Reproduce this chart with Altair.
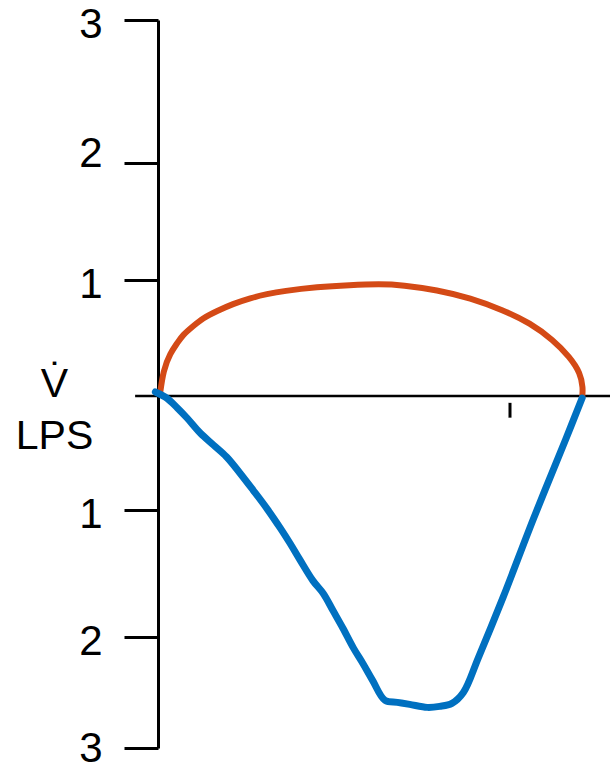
import altair as alt
import pandas as pd

# Volume (L) and flow (L/s) readings for the expiratory limb (above the zero line)
exp_volume = [0.02, 0.06, 0.14, 0.22, 0.28, 0.40, 0.51, 0.67, 0.85, 1.05, 1.24,
              1.42, 1.81, 2.18, 2.52, 2.78, 3.17, 3.55, 3.92, 4.23, 4.49, 4.68,
              4.80, 4.83, 4.82]
exp_flow = [0.0, 0.224, 0.371, 0.457, 0.526, 0.603, 0.672, 0.733, 0.793, 0.845, 0.879,
            0.905, 0.94, 0.957, 0.966, 0.957, 0.914, 0.845, 0.741, 0.629, 0.483, 0.336,
            0.198, 0.069, -0.017]

# Inspiratory limb (below the zero line)
insp_volume = [-0.03, 0.10, 0.22, 0.33, 0.48, 0.63, 0.78, 0.93, 1.08, 1.24, 1.39,
               1.50, 1.61, 1.76, 1.88, 1.99, 2.10, 2.22, 2.33, 2.44, 2.58, 2.72,
               2.86, 3.06, 3.20, 3.34, 3.47, 3.64, 3.92, 4.27, 4.63, 4.82]
insp_flow = [0.035, -0.018, -0.105, -0.193, -0.325, -0.43, -0.535, -0.675, -0.825,
             -0.99, -1.143, -1.262, -1.389, -1.556, -1.659, -1.794, -1.929, -2.098,
             -2.241, -2.393, -2.571, -2.589, -2.607, -2.634, -2.625, -2.598, -2.5,
             -2.1875, -1.69, -1.063, -0.386, -0.018]

flow_ticks = [-3, -2, -1, 1, 2, 3]
volume_tick = 4.0

exp_df = pd.DataFrame({"v": exp_volume, "f": exp_flow, "i": range(len(exp_volume))})
insp_df = pd.DataFrame({"v": insp_volume, "f": insp_flow, "i": range(len(insp_volume))})

W, H = 452, 728
FONT = "Liberation Sans"

x_scale = alt.Scale(domain=[0, W / 88], nice=False, zero=False)
# hand-ruled flow axis: spacing between the gridded values is not uniform
y_scale = alt.Scale(domain=[-3, -2, -1, 0, 1, 2, 3],
                    range=[728, 617, 490, 376, 260, 143, 0],
                    nice=False, zero=False)

y_axis = alt.Axis(
    values=flow_ticks,
    labelExpr="abs(datum.value)",
    grid=False,
    domainColor="black",
    domainWidth=3,
    tickColor="black",
    tickWidth=3,
    tickSize=34,
    labelFont=FONT,
    labelFontSize=42,
    labelColor="black",
    labelPadding=22,
    labelBaseline="middle",
    labelOffset={
        "condition": [
            {"test": "datum.value == 2", "value": -10},
            {"test": "datum.value == -3", "value": 0},
        ],
        "value": 4,
    },
    title=["V\u0307", "LPS"],
    titleFont=FONT,
    titleFontSize=41,
    titleFontWeight="normal",
    titleColor="black",
    titleAngle=0,
    titleAlign="center",
    titleBaseline="alphabetic",
    titleLineHeight=52,
    titleX=-104,
    titleY=376,
)


def x_enc():
    return alt.X("v:Q", scale=x_scale, axis=None)


def y_enc():
    return alt.Y("f:Q", scale=y_scale, axis=y_axis)


zero_line = alt.Chart(pd.DataFrame({"v": [-0.26], "v2": [W / 88], "f": [0]})).mark_rule(
    color="black", strokeWidth=2.5
).encode(x=x_enc(), x2="v2:Q", y=y_enc())

vol_tick = alt.Chart(pd.DataFrame({"v": [volume_tick], "f": [-0.06], "f2": [-0.19]})).mark_rule(
    color="black", strokeWidth=3
).encode(x=x_enc(), y=y_enc(), y2="f2:Q")

expiration = alt.Chart(exp_df).mark_line(
    color="#D44A16", strokeWidth=6, interpolate="basis", strokeCap="butt"
).encode(x=x_enc(), y=y_enc(), order="i:Q")

inspiration = alt.Chart(insp_df).mark_line(
    color="#0070C0", strokeWidth=7, strokeCap="round", strokeJoin="round",
    interpolate="catmull-rom"
).encode(x=x_enc(), y=y_enc(), order="i:Q")

chart = alt.layer(zero_line, vol_tick, expiration, inspiration).properties(
    width=W,
    height=H,
    autosize=alt.AutoSizeParams(type="none"),
    padding={"left": 158, "top": 20, "right": 0, "bottom": 22},
    background="white",
).configure_view(stroke=None)

chart.save("out.html", embed_options={"renderer": "svg", "actions": False})
